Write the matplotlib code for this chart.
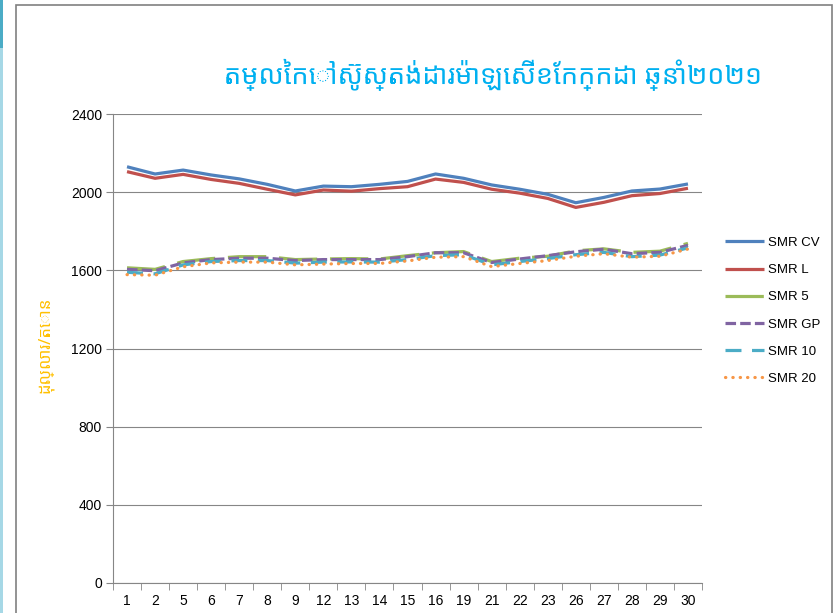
import matplotlib
matplotlib.use("Agg")
import matplotlib.pyplot as plt
from matplotlib.patches import Rectangle

# trading days of July 2021
days = ['1', '2', '5', '6', '7', '8', '9', '12', '13', '14', '15',
        '16', '19', '21', '22', '23', '26', '27', '28', '29', '30']

smr_cv = [2130, 2093, 2113, 2088, 2068, 2040, 2006, 2031, 2028, 2040, 2055,
          2093, 2071, 2037, 2015, 1989, 1946, 1973, 2006, 2016, 2042]
smr_l = [2105, 2071, 2091, 2065, 2045, 2015, 1986, 2011, 2005, 2018, 2028,
         2067, 2050, 2015, 1995, 1968, 1922, 1948, 1982, 1993, 2020]
smr_5 = [1613, 1605, 1645, 1660, 1670, 1670, 1655, 1658, 1660, 1658, 1675,
         1690, 1696, 1645, 1662, 1672, 1700, 1710, 1692, 1698, 1738]
smr_gp = [1605, 1598, 1638, 1655, 1662, 1662, 1650, 1655, 1655, 1655, 1670,
          1690, 1690, 1640, 1658, 1675, 1695, 1708, 1685, 1692, 1728]
smr_10 = [1590, 1582, 1628, 1645, 1650, 1650, 1637, 1642, 1643, 1642, 1655,
          1675, 1680, 1628, 1645, 1660, 1680, 1692, 1670, 1678, 1715]
smr_20 = [1578, 1575, 1618, 1638, 1642, 1642, 1628, 1632, 1635, 1635, 1648,
          1667, 1670, 1619, 1635, 1650, 1672, 1685, 1667, 1672, 1709]

series = [
    ('SMR CV', smr_cv, '#4F81BD', '-'),
    ('SMR L', smr_l, '#C0504D', '-'),
    ('SMR 5', smr_5, '#9BBB59', (0, (12, 4))),
    ('SMR GP', smr_gp, '#8064A2', (0, (3.3, 1.3))),
    ('SMR 10', smr_10, '#4BACC6', (0, (5, 3.3))),
    ('SMR 20', smr_20, '#F79646', (0, (0.1, 2.2))),
]

title = 'តម្លៃកៅស៊ូស្តង់ដារម៉ាឡេស៊ីខែកក្កដា ឆ្នាំ២០២១'
ylabel = 'ដុល្លារ/តោន'

khmer = ['Noto Sans Khmer', 'Khmer OS', 'Noto Sans', 'DejaVu Sans']
plt.rcParams['font.family'] = ['Liberation Sans', 'DejaVu Sans']

fig = plt.figure(figsize=(8.38, 6.13), dpi=100)
ax = fig.add_axes([113 / 838, 30 / 613, 589 / 838, 469 / 613])

x = list(range(len(days)))
for name, vals, col, ls in series:
    cap = 'round' if name == 'SMR 20' else 'butt'
    ax.plot(x, vals, color=col, linestyle=ls, lw=2.3, label=name,
            dash_capstyle=cap, solid_capstyle='butt')

grey = '#868686'
ax.set_xlim(-0.5, len(days) - 0.5)
ax.set_ylim(0, 2400)
ax.set_yticks(range(0, 2401, 400))
ax.set_xticks(x)
ax.set_xticklabels(days)
ax.set_xticks([i - 0.5 for i in range(len(days) + 1)], minor=True)
ax.tick_params(axis='x', which='major', length=0, pad=8, labelsize=10)
ax.tick_params(axis='x', which='minor', length=5, color=grey, direction='out')
ax.tick_params(axis='y', length=5, color=grey, labelsize=10, pad=3)
ax.grid(axis='y', color=grey, lw=0.8)
ax.set_axisbelow(True)
for s in ['top', 'right']:
    ax.spines[s].set_visible(False)
for s in ['left', 'bottom']:
    ax.spines[s].set_color(grey)

fig.text(493 / 838, 1 - 75 / 613, title, ha='center', va='center',
         fontsize=19.5, fontweight='bold', color='#00B0F0', family=khmer)
fig.text(45 / 838, 1 - 345 / 613, ylabel, ha='center', va='center',
         rotation=90, fontsize=12, color='#FFC000', family=khmer)

fig.legend(loc='upper left', bbox_to_anchor=(713 / 838, 1 - 225 / 613),
           frameon=False, fontsize=9.5, handlelength=3.0, handletextpad=0.3,
           labelspacing=1.13)

# chart frame and the sheet strip on the far left
fig.patches.append(Rectangle((16 / 838, -0.05), 816 / 838, 1.05 - 5 / 613,
                             transform=fig.transFigure, fill=False,
                             edgecolor='#808080', lw=1.2))
fig.patches.append(Rectangle((0, 1 - 48 / 613), 3 / 838, 48 / 613,
                             transform=fig.transFigure, color='#4BACC6', lw=0))
fig.patches.append(Rectangle((0, 0), 3 / 838, 1 - 48 / 613,
                             transform=fig.transFigure, color='#A6D8E6', lw=0))

fig.savefig('out.png', dpi=100)
